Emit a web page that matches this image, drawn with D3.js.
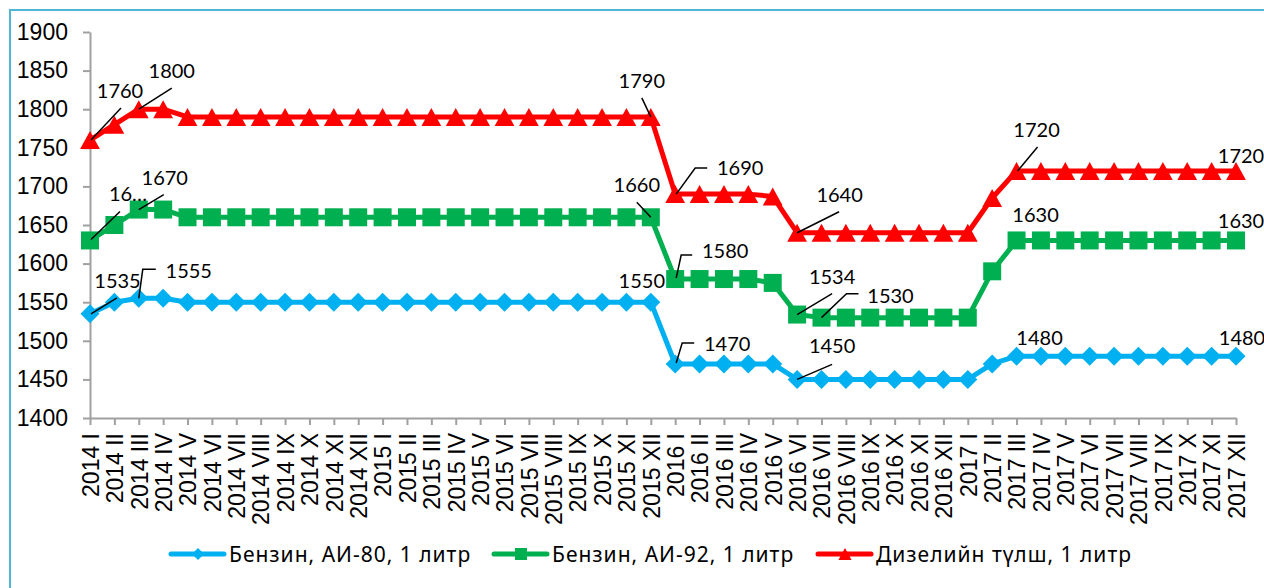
<!DOCTYPE html>
<html>
<head>
<meta charset="utf-8">
<script src="https://cdn.jsdelivr.net/npm/d3@7"></script>
<style>
  html, body { margin: 0; padding: 0; background: #fff; }
  svg { display: block; }
</style>
</head>
<body>
<svg id="chart" width="1264" height="588"></svg>
<script>
// ---------- DATA ----------
const years = ["2014", "2015", "2016", "2017"];
const months = ["I","II","III","IV","V","VI","VII","VIII","IX","X","XI","XII"];
const categories = years.flatMap(y => months.map(m => y + " " + m));

const yTicks = [1400, 1450, 1500, 1550, 1600, 1650, 1700, 1750, 1800, 1850, 1900];

const seriesNames = ["Бензин, АИ-80, 1 литр", "Бензин, АИ-92, 1 литр", "Дизелийн түлш, 1 литр"];

const ai80 = [1535, 1550, 1555, 1555, 1550, 1550, 1550, 1550, 1550, 1550, 1550, 1550,
              1550, 1550, 1550, 1550, 1550, 1550, 1550, 1550, 1550, 1550, 1550, 1550,
              1470, 1470, 1470, 1470, 1470, 1450, 1450, 1450, 1450, 1450, 1450, 1450,
              1450, 1470, 1480, 1480, 1480, 1480, 1480, 1480, 1480, 1480, 1480, 1480];

const ai92 = [1630, 1650, 1670, 1670, 1660, 1660, 1660, 1660, 1660, 1660, 1660, 1660,
              1660, 1660, 1660, 1660, 1660, 1660, 1660, 1660, 1660, 1660, 1660, 1660,
              1580, 1580, 1580, 1580, 1575, 1534, 1530, 1530, 1530, 1530, 1530, 1530,
              1530, 1590, 1630, 1630, 1630, 1630, 1630, 1630, 1630, 1630, 1630, 1630];

const diesel = [1760, 1780, 1800, 1800, 1790, 1790, 1790, 1790, 1790, 1790, 1790, 1790,
                1790, 1790, 1790, 1790, 1790, 1790, 1790, 1790, 1790, 1790, 1790, 1790,
                1690, 1690, 1690, 1690, 1687, 1640, 1640, 1640, 1640, 1640, 1640, 1640,
                1640, 1685, 1720, 1720, 1720, 1720, 1720, 1720, 1720, 1720, 1720, 1720];

// data labels: series, point index, text
const labelPoints = [
  [2, 0, "1760"], [2, 2, "1800"], [2, 23, "1790"], [2, 24, "1690"], [2, 29, "1640"], [2, 38, "1720"], [2, 47, "1720"],
  [1, 0, "16…"], [1, 2, "1670"], [1, 23, "1660"], [1, 24, "1580"], [1, 29, "1534"], [1, 30, "1530"], [1, 38, "1630"], [1, 47, "1630"],
  [0, 0, "1535"], [0, 2, "1555"], [0, 23, "1550"], [0, 24, "1470"], [0, 29, "1450"], [0, 38, "1480"], [0, 47, "1480"]
];

// ---------- STYLE / LAYOUT ----------
const colors = ["#00b0f0", "#00b050", "#ff0000"];
const markerTypes = ["diamond", "square", "triangle"];
const allSeries = [ai80, ai92, diesel];

// label placement relative to the point: [dx, dyBaseline, leader polyline]
const labelLayout = {
  "2-0":  [30, -42, [[1,0],[31,-32]]],
  "2-2":  [33, -31, [[0,0],[33,-21]]],
  "2-23": [-9, -29, [[0,0],[-9,-19]]],
  "2-24": [65, -19, [[1,0],[20,-26],[32,-26]]],
  "2-29": [42.5, -31, [[0,0],[42,-21]]],
  "2-38": [20, -34, [[1,0],[21,-24]]],
  "2-47": [5, -8, null],
  "1-0":  [38, -39, [[1,-1],[30,-29]]],
  "1-2":  [26, -25, [[0,0],[25,-15]]],
  "1-23": [-14, -25, [[0,0],[-14,-15]]],
  "1-24": [50, -21, [[1,-1],[6,-24],[17,-24]]],
  "1-29": [35, -31, [[0,0],[35,-21]]],
  "1-30": [69, -15, [[0,0],[25,-24],[37,-24]]],
  "1-38": [19, -18, null],
  "1-47": [5, -12, null],
  "0-0":  [27.5, -26, [[1,0],[27,-16]]],
  "0-2":  [50, -20, [[0,0],[4,-29],[17,-29]]],
  "0-23": [-9, -14, null],
  "0-24": [52, -13, [[1,-1],[7,-21],[19,-21]]],
  "0-29": [35, -26, [[0,0],[35,-15]]],
  "0-38": [23, -11, null],
  "0-47": [6, -11, null]
};

const svg = d3.select("#chart");

// outer border
svg.append("path")
  .attr("d", "M10,600 L10,10 L1300,10")
  .attr("fill", "none")
  .attr("stroke", "#4fb6d3")
  .attr("stroke-width", 2);

const x = d3.scalePoint().domain(categories).range([90, 1236]);
const y = d3.scaleLinear().domain([1400, 1900]).range([418, 32]);

const axisColor = "#a0a0a0";
const axisFont = "'Liberation Sans', Arial, sans-serif";

// y axis
const gy = svg.append("g").attr("transform", "translate(90,0)")
  .call(d3.axisLeft(y).tickValues(yTicks).tickSize(7).tickSizeOuter(0).tickPadding(15).tickFormat(d3.format("d")));
gy.select(".domain").attr("stroke", axisColor).attr("stroke-width", 2);
gy.selectAll(".tick line").attr("stroke", axisColor).attr("stroke-width", 2);
gy.selectAll(".tick text").attr("font-family", axisFont).attr("font-size", 23).attr("fill", "#000");

// x axis
const gx = svg.append("g").attr("transform", "translate(0,418)")
  .call(d3.axisBottom(x).tickSize(7).tickSizeOuter(0));
gx.select(".domain").attr("stroke", axisColor).attr("stroke-width", 2);
gx.selectAll(".tick line").attr("stroke", axisColor).attr("stroke-width", 2);
gx.selectAll(".tick text")
  .attr("font-family", axisFont).attr("font-size", 23).attr("fill", "#000")
  .attr("transform", "rotate(-90)")
  .attr("text-anchor", "end")
  .attr("x", -15).attr("y", 0).attr("dy", "0.36em");

// marker symbol paths
function markerPath(type, s) {
  if (type === "diamond") return `M0,${-s/2} L${s/2},0 L0,${s/2} L${-s/2},0 Z`;
  if (type === "square") return `M${-s/2},${-s/2} h${s} v${s} h${-s} Z`;
  const w = s * 1.1, h = s;
  return `M0,${-h/2} L${w/2},${h/2} L${-w/2},${h/2} Z`;
}
const markerSize = [19, 18, 18];

const line = d3.line().x((d, i) => x(categories[i])).y(d => y(d));

allSeries.forEach((vals, si) => {
  const g = svg.append("g");
  g.append("path")
    .datum(vals)
    .attr("d", line)
    .attr("fill", "none")
    .attr("stroke", colors[si])
    .attr("stroke-width", 5)
    .attr("stroke-linejoin", "round");
  g.selectAll("path.m")
    .data(vals)
    .join("path")
    .attr("class", "m")
    .attr("transform", (d, i) => `translate(${x(categories[i])},${y(d)})`)
    .attr("d", markerPath(markerTypes[si], markerSize[si]))
    .attr("fill", colors[si]);
});

// data labels
const labelFont = "Lato, 'Open Sans', sans-serif";
const lg = svg.append("g");
labelPoints.forEach(([si, idx, txt]) => {
  const px = x(categories[idx]);
  const py = y(allSeries[si][idx]);
  const [dx, dy, leader] = labelLayout[si + "-" + idx];
  if (leader) {
    lg.append("path")
      .attr("d", d3.line()(leader.map(([a, b]) => [px + a, py + b])))
      .attr("fill", "none").attr("stroke", "#000").attr("stroke-width", 1.5);
  }
  lg.append("text")
    .attr("x", px + dx).attr("y", py + dy)
    .attr("text-anchor", "middle")
    .attr("font-family", labelFont).attr("font-size", 20)
    .attr("fill", "#000")
    .text(txt);
});

// legend
const legendX = [169, 492, 816];
const legendY = 554;
const leg = svg.append("g");
seriesNames.forEach((name, si) => {
  const g = leg.append("g").attr("transform", `translate(${legendX[si]},${legendY})`);
  g.append("line").attr("x1", 2).attr("x2", 55).attr("y1", 0).attr("y2", 0)
    .attr("stroke", colors[si]).attr("stroke-width", 5).attr("stroke-linecap", "round");
  g.append("path").attr("transform", "translate(29,0)")
    .attr("d", markerPath(markerTypes[si], 12)).attr("fill", colors[si]);
  g.append("text").attr("x", 60).attr("y", 7.5)
    .attr("font-family", "'Noto Sans', 'Open Sans', sans-serif").attr("font-size", 21)
    .attr("letter-spacing", 1)
    .attr("fill", "#000")
    .text(name);
});
</script>
</body>
</html>
